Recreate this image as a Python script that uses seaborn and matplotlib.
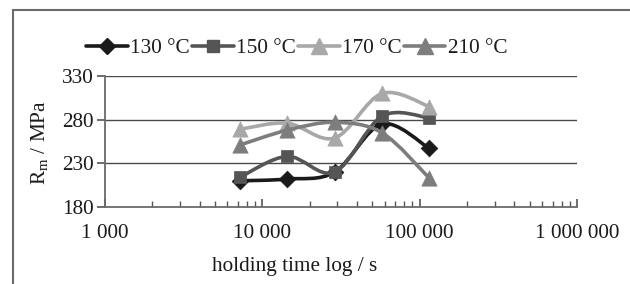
import numpy as np
import pandas as pd
import matplotlib
matplotlib.use("Agg")
import matplotlib.pyplot as plt
import seaborn as sns
from matplotlib.path import Path
from matplotlib.patches import PathPatch, Rectangle
from matplotlib.lines import Line2D
from matplotlib.ticker import FixedLocator, LogLocator, NullFormatter

# ---- data ----
times = [7200, 14400, 28800, 57600, 115200]
series_names = ["130 °C", "150 °C", "170 °C", "210 °C"]
rm_130 = [210, 212, 220, 275, 247]
rm_150 = [214, 238, 220, 284, 282]
rm_170 = [269, 276, 259, 310, 295]
rm_210 = [251, 268, 277, 265, 213]
y_ticks = [180, 230, 280, 330]
x_ticks = [1000, 10000, 100000, 1000000]
x_tick_labels = ["1 000", "10 000", "100 000", "1 000 000"]

values = [rm_130, rm_150, rm_170, rm_210]
colors = ["#1a1a1a", "#555555", "#a8a8a8", "#7d7d7d"]
markers = ["D", "s", "^", "^"]
msizes = [8.5, 9, 11, 11]

sns.set_theme(style="white")
plt.rcParams["font.family"] = ["Liberation Serif", "DejaVu Serif"]
plt.rcParams["mathtext.fontset"] = "custom"
plt.rcParams["mathtext.rm"] = "Liberation Serif"
FS = 15.3

fig = plt.figure(figsize=(6.3, 2.84), dpi=100)
ax = fig.add_axes([105 / 630, 1 - 207 / 284, (577 - 105) / 630, (207 - 76) / 284])

# outer frame (cropped chart box)
fig.patches.append(Rectangle((13 / 630, -0.5), 2.0, 1 - 10 / 284 + 0.5, transform=fig.transFigure,
                             fill=False, edgecolor="#6a6a6a", lw=1.5, clip_on=False))

def smooth_path(xs, ys):
    lx = np.log10(np.asarray(xs, float))
    y = np.asarray(ys, float)
    pts = np.column_stack([lx, y])
    n = len(pts)
    verts = [pts[0]]
    codes = [Path.MOVETO]
    for i in range(n - 1):
        p0 = pts[i - 1] if i > 0 else pts[i]
        p1 = pts[i]
        p2 = pts[i + 1]
        p3 = pts[i + 2] if i + 2 < n else pts[i + 1]
        c1 = p1 + (p2 - p0) / 6.0
        c2 = p2 - (p3 - p1) / 6.0
        verts += [c1, c2, p2]
        codes += [Path.CURVE4] * 3
    verts = np.array(verts)
    verts[:, 0] = 10 ** verts[:, 0]
    return Path(verts, codes)

for k, (name, vals) in enumerate(zip(series_names, values)):
    df = pd.DataFrame({"time": times, "Rm": vals})
    patch = PathPatch(smooth_path(times, vals), fill=False, edgecolor=colors[k], lw=2.6,
                      zorder=3 + 2 * k, capstyle="round", joinstyle="round")
    ax.add_patch(patch)
    sns.scatterplot(data=df, x="time", y="Rm", ax=ax, marker=markers[k], color=colors[k],
                    s=msizes[k] ** 2, edgecolor=colors[k], linewidth=0.5, zorder=4 + 2 * k,
                    legend=False)

ax.set_xscale("log")
ax.set_xlim(1000, 1000000)
ax.set_ylim(180, 330)
ax.set_yticks(y_ticks)
ax.set_yticklabels([str(v) for v in y_ticks], fontsize=FS)
ax.xaxis.set_major_locator(FixedLocator(x_ticks))
ax.set_xticklabels(x_tick_labels, fontsize=FS)
ax.xaxis.set_minor_locator(LogLocator(base=10, subs=np.arange(2, 10)))
ax.xaxis.set_minor_formatter(NullFormatter())
ax.set_xlabel("")
ax.set_ylabel("")

for v in y_ticks[1:]:
    ax.axhline(v, color="#4a4a4a", lw=1.0, zorder=1)

for s in ["top", "right"]:
    ax.spines[s].set_visible(False)
for s in ["left", "bottom"]:
    ax.spines[s].set_color("#6a6a6a")
    ax.spines[s].set_linewidth(1.3)

ax.tick_params(axis="x", which="major", direction="in", length=6, width=1.2, color="#555555",
               pad=12, colors="#1a1a1a")
ax.tick_params(axis="x", which="minor", direction="in", length=4, width=1.0, color="#555555")
ax.tick_params(axis="x", which="both", bottom=True, color="#555555")
ax.tick_params(axis="y", which="major", direction="out", length=6, width=1.2, color="#555555",
               pad=2, left=True)
for lab in ax.get_xticklabels() + ax.get_yticklabels():
    lab.set_color("#1a1a1a")

fig.text(295 / 630, 1 - 267 / 284, "holding time log / s", ha="center", va="center",
         fontsize=FS, color="#1a1a1a")
fig.text(40 / 630, 1 - 142 / 284, r"R$_\mathregular{m}$ / MPa", ha="center", va="center",
         rotation=90, fontsize=FS, color="#1a1a1a")

handles = [Line2D([], [], color=colors[k], lw=2.6, marker=markers[k], markersize=msizes[k],
                  markeredgecolor=colors[k]) for k in range(4)]
fig.legend(handles, series_names, loc="center", bbox_to_anchor=(297 / 630, 1 - 48 / 284),
           ncol=4, frameon=False, fontsize=FS, handlelength=1.95, handletextpad=0.12,
           columnspacing=0.1, borderpad=0, labelcolor="#1a1a1a")

fig.savefig("out.png", dpi=100)
